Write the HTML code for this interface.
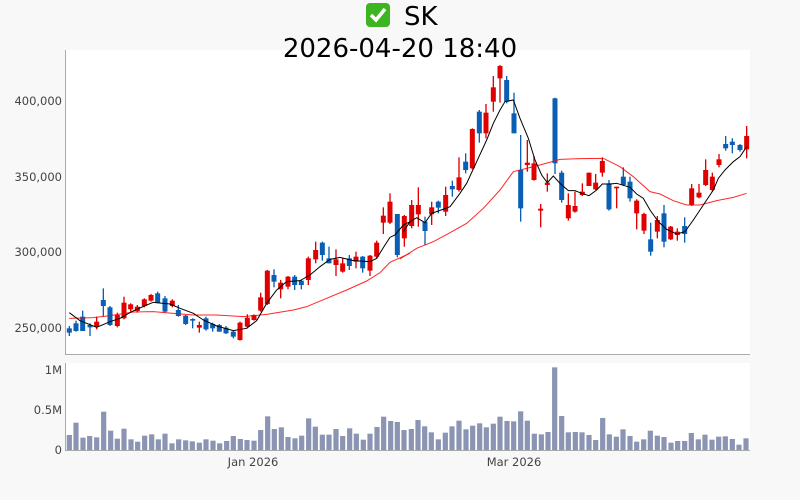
<!DOCTYPE html>
<html><head><meta charset="utf-8"><style>
html,body{margin:0;padding:0;background:#f8f8f8;width:800px;height:500px;overflow:hidden}
text{font-family:"DejaVu Sans","Liberation Sans",sans-serif}
</style></head><body>
<svg id="s" width="800" height="500" xmlns="http://www.w3.org/2000/svg">
<rect x="66" y="50" width="684" height="304" fill="#fff"/>
<rect x="66" y="363" width="684" height="87" fill="#fff"/>
<line x1="65.5" y1="50" x2="65.5" y2="355" stroke="#aaa"/>
<line x1="65" y1="354.5" x2="750" y2="354.5" stroke="#aaa"/>
<line x1="65.5" y1="363" x2="65.5" y2="450" stroke="#aaa"/>
<line x1="65" y1="450.5" x2="750" y2="450.5" stroke="#aaa"/>
<g font-size="11.5" fill="#444" text-anchor="end">
<text x="62" y="105">400,000</text><text x="62" y="181">350,000</text>
<text x="62" y="256">300,000</text><text x="62" y="332">250,000</text>
<text x="62" y="374">1M</text><text x="62" y="414">0.5M</text><text x="62" y="454">0</text>
</g>
<g font-size="11.5" fill="#444" text-anchor="middle">
<text x="253" y="466">Jan 2026</text><text x="514" y="466">Mar 2026</text>
</g>
<rect x="366" y="3" width="24" height="24" rx="4" fill="#3cb521"/>
<path d="M371 15 l5 5 l9 -11" stroke="#fff" stroke-width="3.5" fill="none"/>
<text x="404" y="25" font-size="26" fill="#000">SK</text>
<text x="400" y="57" font-size="26" fill="#000" text-anchor="middle">2026-04-20 18:40</text>
<g id="g1" transform="translate(60,50) scale(0.33333)"></g>
<g id="g2" transform="translate(400,50) scale(0.33333)"></g>
<g id="vol"></g>
</svg>
<script>
var R="#e00000",B="#0a5fb4";
var c1=[[28,B,835,848,828,858],[48,B,820,843,812,845],[68,B,800,843,782,843],[90,B,825,832,820,858],[110,R,815,830,800,838],[130,B,750,768,715,800],[150,B,772,825,768,828],[172,R,795,828,788,832],[192,R,758,805,740,808],[212,R,763,778,760,785],[232,R,770,783,765,788],[253,R,748,768,745,772],[273,R,735,752,732,755],[293,B,730,758,725,760],[315,B,745,785,738,788],[337,R,752,768,748,772],[355,B,780,798,765,800],[377,B,797,822,795,825],[398,B,807,812,805,835],[418,R,825,833,815,848],[438,B,805,838,800,842],[458,B,822,835,818,845],[478,B,825,845,822,845],[498,B,833,850,828,852],[520,B,845,860,840,865],[540,R,818,870,815,872],[562,R,803,830,793,835],[582,R,795,810,793,812],[602,R,742,782,728,785],[622,R,662,762,660,765],[642,B,675,695,658,712],[662,R,698,718,690,745],[684,R,680,710,678,718],[704,B,680,705,675,720],[724,B,692,705,690,718],[745,R,625,690,620,705],[767,R,600,628,575,640],[787,B,578,615,575,632],[807,B,625,640,590,640],[828,R,628,645,598,678],[848,R,640,665,625,668],[868,B,625,648,615,660],[888,R,620,635,605,655],[908,B,620,655,618,668],[930,R,617,662,615,678],[950,R,578,620,572,625],[970,R,497,518,472,552],[990,R,455,518,430,522],[1012,B,492,615,492,622],[1033,R,498,565,495,590]];
var c2=[[35,R,465,528,450,535],[55,R,465,493,412,530],[75,B,515,543,500,585],[95,R,472,493,455,525],[115,B,455,473,452,490],[137,R,435,485,410,498],[157,B,408,418,392,440],[177,R,382,420,322,425],[197,B,335,360,310,370],[217,R,237,355,235,358],[238,B,185,250,180,278],[258,R,188,250,162,265],[280,R,112,155,78,185],[300,R,48,85,45,158],[320,B,90,155,78,160],[342,B,190,250,128,250],[362,B,360,475,255,515],[382,R,338,345,270,365],[402,R,340,390,318,392],[422,R,476,482,462,532],[442,R,398,405,370,425],[465,B,145,340,143,372],[485,B,368,450,362,458],[505,R,465,505,430,512],[525,R,468,485,425,488],[547,R,425,435,400,438],[567,R,368,408,368,408],[587,R,398,418,372,420],[607,R,333,368,322,380],[627,B,400,478,390,482],[650,R,410,415,410,475],[670,B,380,405,352,408],[690,B,395,445,380,455],[710,R,452,490,448,538],[732,R,492,542,488,552],[752,B,568,605,518,617],[772,R,510,545,498,565],[792,B,490,575,465,592],[812,R,530,568,528,570],[832,R,545,555,535,572],[854,B,528,552,502,578],[875,R,415,465,402,468],[897,R,428,442,402,445],[917,R,360,405,328,408],[937,R,380,420,368,425],[957,R,328,345,312,352],[977,B,282,295,258,302],[997,B,275,285,265,310],[1020,B,285,300,282,305],[1040,R,258,298,228,325]];
var k1="28,788 60,812 110,832 150,815 180,805 215,785 260,765 280,757 330,762 360,775 400,790 430,810 470,828 520,842 560,835 590,812 620,760 650,720 680,695 720,692 750,675 780,650 810,628 840,622 880,632 930,635 950,625 975,585 990,562 1005,555 1030,525 1050,515";
var k2="10,545 30,515 50,503 75,518 95,490 115,483 150,470 180,430 200,400 230,335 260,270 280,220 300,180 315,155 340,150 360,205 385,265 405,330 425,375 442,398 460,378 480,400 505,422 525,422 545,430 567,437 590,420 607,402 630,402 650,400 690,412 710,432 730,445 750,480 775,515 800,538 830,552 855,545 880,510 900,480 920,450 940,420 955,385 975,360 1000,335 1020,320 1040,290";
var r1="28,805 100,803 150,797 220,786 280,785 340,790 400,795 470,795 550,800 620,793 700,780 740,770 800,745 860,720 920,693 960,668 990,637 1050,610";
var r2="0,627 50,595 100,575 150,548 200,520 250,475 300,420 340,365 380,355 420,345 480,328 540,326 610,325 660,350 700,380 750,425 780,432 820,452 860,465 900,465 950,452 1000,442 1040,430";
function draw(id,c,k,r){var h="";c.forEach(function(d){h+='<rect x="'+(d[0]-2)+'" y="'+d[4]+'" width="4" height="'+(d[5]-d[4])+'" fill="'+d[1]+'"/>';h+='<rect x="'+(d[0]-7.5)+'" y="'+d[2]+'" width="15" height="'+Math.max(4,d[3]-d[2])+'" fill="'+d[1]+'"/>';});
h+='<polyline points="'+r+'" fill="none" stroke="#f00" stroke-width="3" opacity="0.85"/>';
h+='<polyline points="'+k+'" fill="none" stroke="#000" stroke-width="3"/>';document.getElementById(id).innerHTML=h;}
draw("g1",c1,k1,r1);draw("g2",c2,k2,r2);
var v1=[[208,240],[228,203],[249,248],[269,243],[290,247],[311,170],[332,227],[352,251],[372,221],[393,253],[413,260],[434,242],[455,238],[475,253],[495,236],[516,265],[536,253],[557,256],[577,259],[598,263],[618,253],[639,257],[659,265],[680,258],[700,243],[721,252],[741,255],[762,257],[782,225],[803,184],[823,222],[844,217],[864,246],[885,250],[905,242],[926,190],[946,215],[967,239],[987,239],[1008,222],[1028,243],[1049,220],[1069,236],[1090,254],[1110,236],[1131,216],[1151,185],[1172,198],[1192,201]];
var v2=[[12,225],[34,222],[54,195],[74,214],[94,232],[115,253],[136,233],[156,214],[177,197],[198,223],[218,212],[239,205],[259,217],[280,206],[300,185],[321,198],[341,199],[362,169],[382,197],[403,236],[424,238],[444,231],[464,37],[485,183],[505,232],[526,231],[546,232],[567,240],[587,255],[608,189],[628,238],[649,245],[669,223],[690,243],[710,260],[731,253],[751,227],[772,242],[792,246],[813,263],[833,258],[854,258],[874,234],[895,253],[915,239],[936,254],[956,245],[976,244],[997,252],[1017,269],[1038,250]];
var h="";v1.forEach(function(d){var x=d[0]/3,y=355+d[1]/3;h+='<rect x="'+(x-2.6)+'" y="'+y+'" width="5.2" height="'+(450-y)+'" fill="#8b95b3"/>';});
v2.forEach(function(d){var x=400+d[0]/3,y=355+d[1]/3;h+='<rect x="'+(x-2.6)+'" y="'+y+'" width="5.2" height="'+(450-y)+'" fill="#8b95b3"/>';});
document.getElementById("vol").innerHTML=h;
</script>
</body></html>
